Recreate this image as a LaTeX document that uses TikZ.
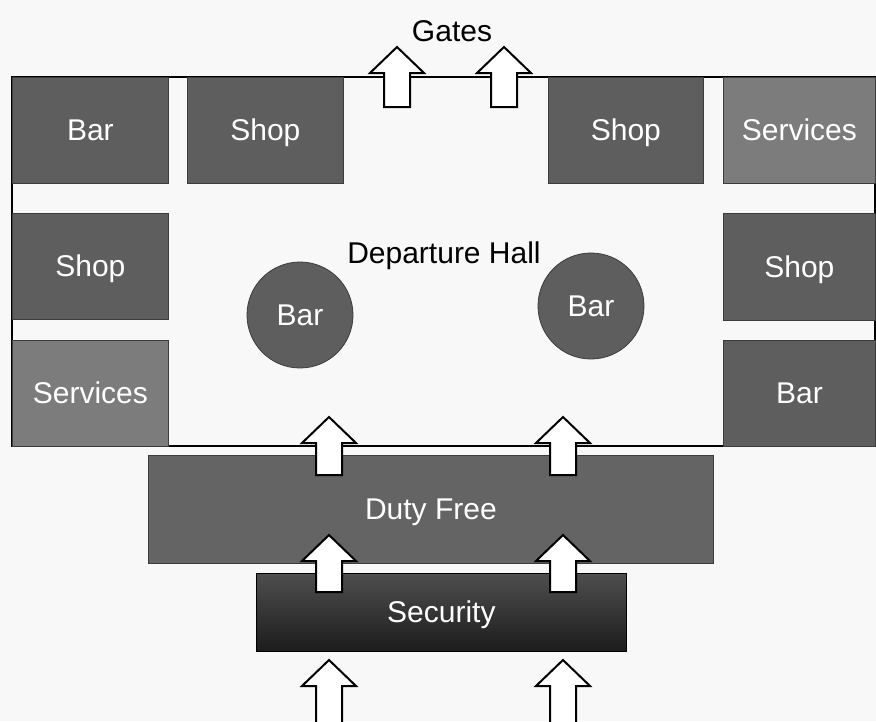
\documentclass[tikz,border=0pt]{standalone}
\usepackage{fontspec}
\setmainfont{Liberation Sans}
\definecolor{bgcol}{HTML}{F8F8F8}
\definecolor{roomdark}{HTML}{5E5E5E}
\definecolor{roomlight}{HTML}{7C7C7C}
\definecolor{dutycol}{HTML}{646464}
\definecolor{secTop}{HTML}{4E4E4E}
\definecolor{secBot}{HTML}{1C1C1C}
\definecolor{roomedge}{HTML}{3C3C3C}
% block arrow pointing up: centre x, tip y, bottom y
\newcommand{\upblock}[3]{%
  \draw[flowarrow] (#1-13,#3) -- (#1-13,#2+26) -- (#1-27,#2+26) -- (#1,#2)
    -- (#1+27,#2+26) -- (#1+13,#2+26) -- (#1+13,#3) -- cycle;}
\begin{document}
\begin{tikzpicture}[x=1pt,y=-1pt,
  label/.style={font=\fontsize{30}{36}\selectfont, text height=21pt, text depth=0pt},
  room/.style={draw=roomedge, line width=0.8pt, fill=roomdark, text=white,
    label, inner sep=0pt, anchor=north west},
  service/.style={room, fill=roomlight},
  kiosk/.style={circle, draw=roomedge, line width=0.8pt, fill=roomdark,
    text=white, label, inner sep=0pt, minimum size=106pt},
  hallwall/.style={draw=black, line width=2pt},
  flowarrow/.style={draw=black, line width=2pt, fill=white, line join=miter}]

\fill[bgcol] (0,0) rectangle (876,721);
\useasboundingbox (0,0) rectangle (876,721);
\clip (0,0) rectangle (876,721);

% departure hall outline
\draw[hallwall] (12,77) rectangle (875,446);

% rooms along the walls
\node[room, minimum width=156pt, minimum height=106pt] (barTL) at (12,77) {Bar};
\node[room, minimum width=156pt, minimum height=106pt] (shopT1) at (187,77) {Shop};
\node[room, minimum width=155pt, minimum height=106pt] (shopT2) at (548,77) {Shop};
\node[service, minimum width=152pt, minimum height=106pt] (servTR) at (723,77) {Services};
\node[room, minimum width=156pt, minimum height=106pt] (shopL) at (12,213) {Shop};
\node[service, minimum width=156pt, minimum height=106pt] (servL) at (12,340) {Services};
\node[room, minimum width=152pt, minimum height=107pt] (shopR) at (723,213) {Shop};
\node[room, minimum width=152pt, minimum height=106pt] (barR) at (723,340) {Bar};

% free-standing bars
\node[kiosk] (barC1) at (300,315) {Bar};
\node[kiosk] (barC2) at (591,306) {Bar};

\node[label] (hall) at (444,253) {Departure Hall};
\node[label] (gates) at (452,31) {Gates};

% duty free and security
\node[room, fill=dutycol, minimum width=565pt, minimum height=108pt] (duty) at (148,455) {Duty Free};
\node[room, draw=black, top color=secTop, bottom color=secBot, minimum width=370pt,
  minimum height=78pt] (security) at (256,573) {Security};

% passenger flow
\upblock{397}{47}{107}
\upblock{504}{47}{107}
\upblock{329}{417}{475}
\upblock{563}{417}{475}
\upblock{329}{535}{592}
\upblock{563}{535}{592}
\upblock{329}{660}{730}
\upblock{563}{660}{730}
\end{tikzpicture}
\end{document}
